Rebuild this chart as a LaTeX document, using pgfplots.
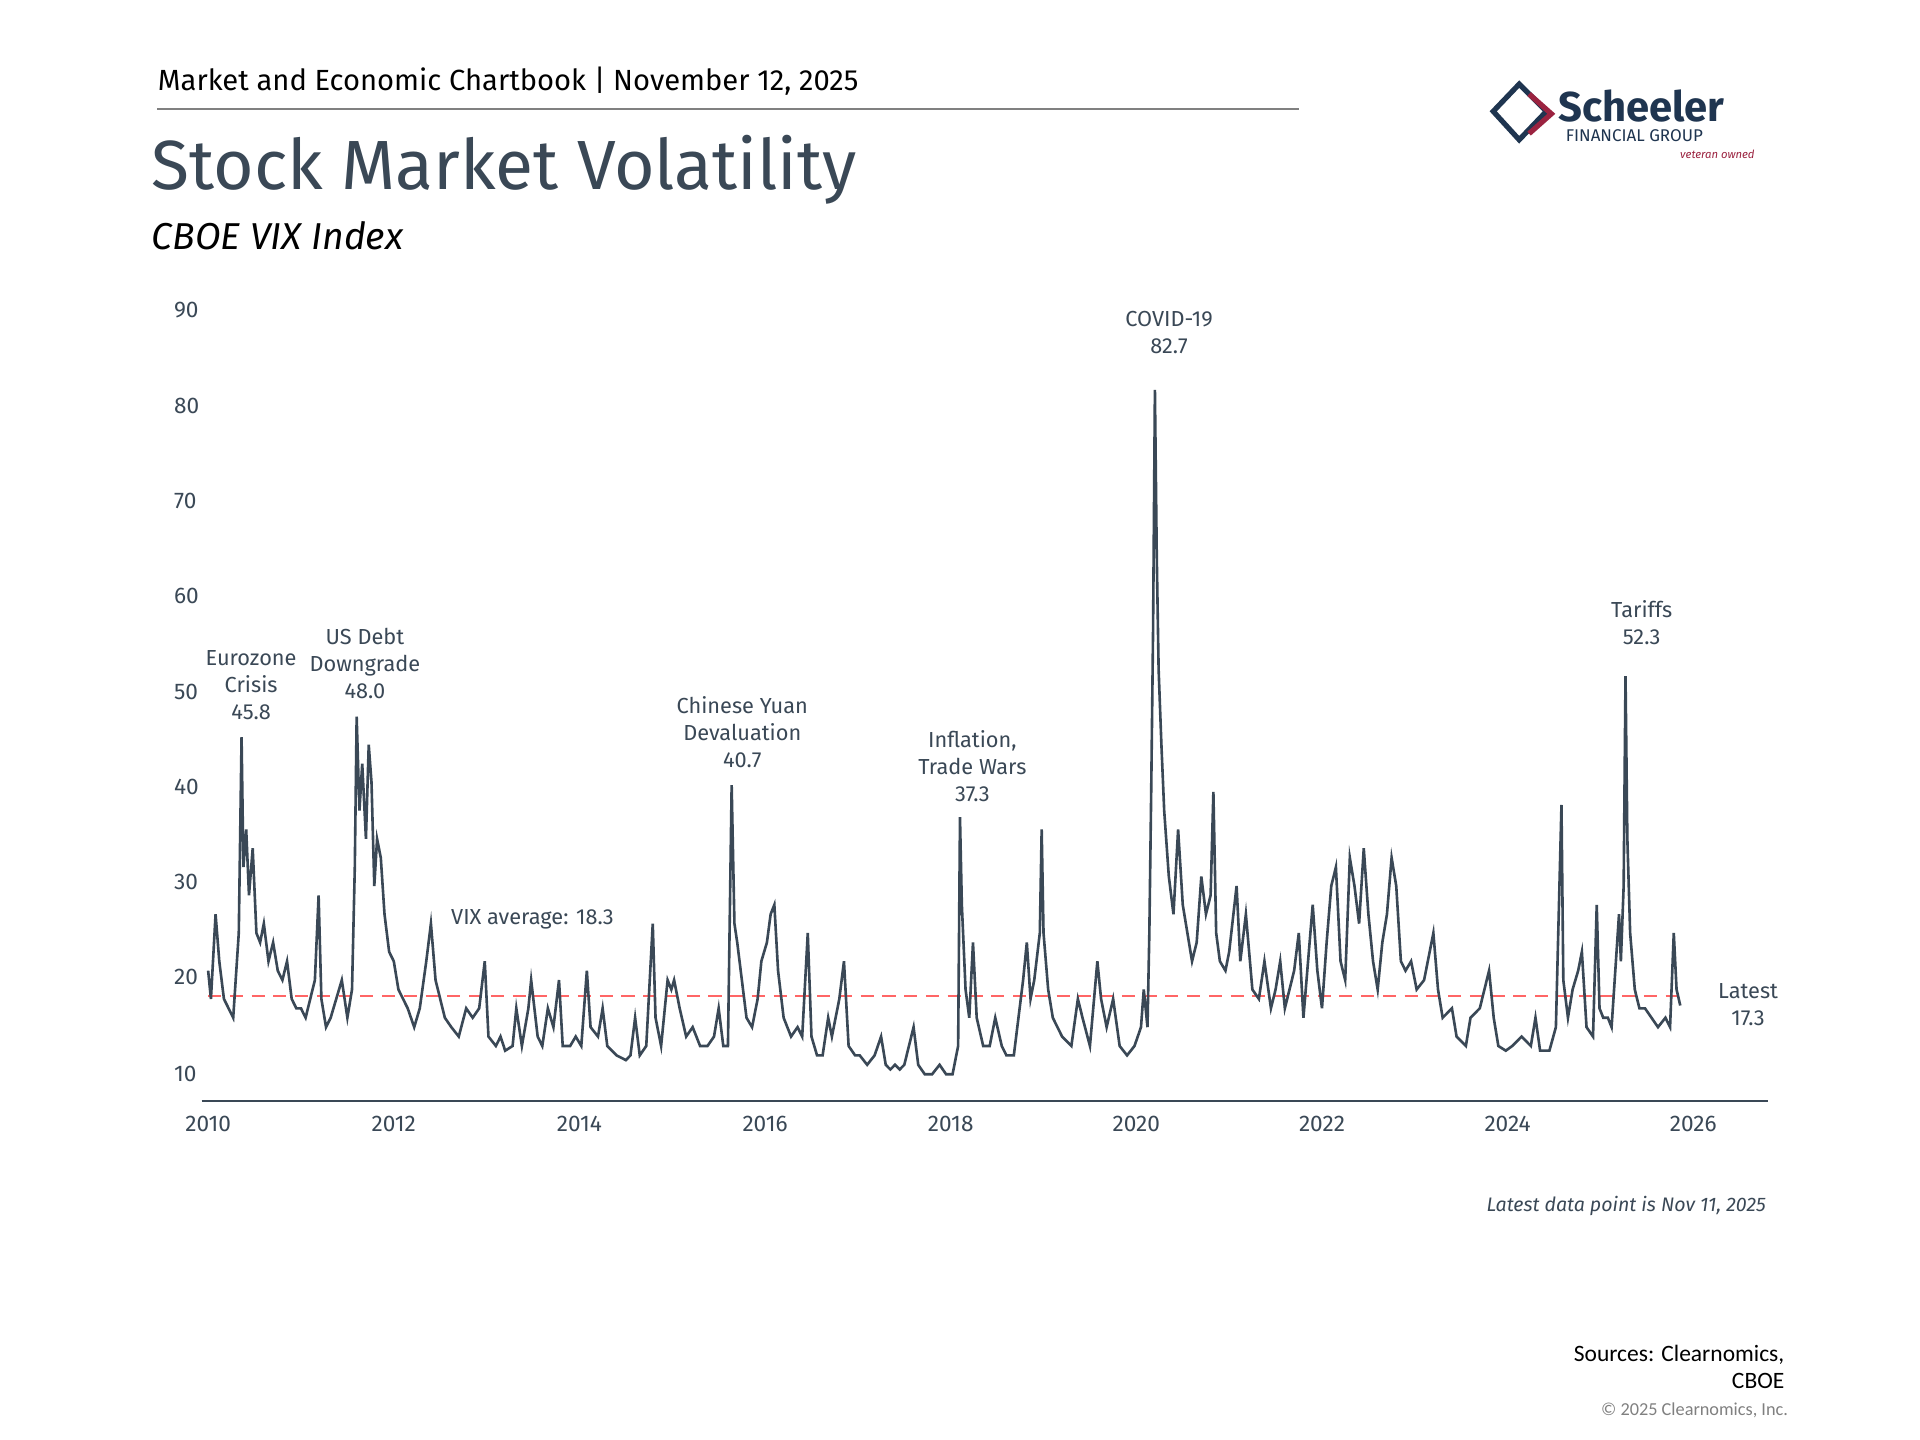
\documentclass[border=0pt]{standalone}
\usepackage{pgfplots}
\pgfplotsset{compat=1.18}
\usepackage{fontspec}
\setmainfont{Fira Sans}
\newfontfamily\calfont{Carlito}
\definecolor{ln}{HTML}{3A4856}
\definecolor{navy}{HTML}{1F3550}
\definecolor{wine}{HTML}{9B2340}
\begin{document}
\begin{tikzpicture}[x=0.01cm,y=-0.01cm]
\path[fill=white] (0,0) rectangle (1552,1164);
\coordinate (A) at (163,890);
\node[anchor=base west,inner sep=0,font=\fontsize{6.7}{8}\selectfont,text=black] at (127,73) {Market and Economic Chartbook | November 12, 2025};
\draw[gray,line width=0.4pt] (127,88) -- (1050,88);
\node[anchor=base west,inner sep=0,font=\fontsize{16}{18}\selectfont,text=ln] at (122,153) {Stock Market Volatility};
\node[anchor=base west,inner sep=0,font=\fontsize{8.6}{10}\selectfont\itshape,text=black] at (122,202) {CBOE VIX Index};
% logo
\draw[navy,line width=1.2pt] (1228,68) -- (1250,90) -- (1228,113) -- (1207,90) -- cycle;
\draw[wine,line width=1.2pt] (1236,76) -- (1254,92) -- (1236,108);
\node[anchor=base west,inner sep=0,font=\fontsize{9.6}{11}\selectfont\bfseries,text=navy] at (1259,98) {Scheeler};
\node[anchor=base west,inner sep=0,font=\fontsize{3.9}{5}\selectfont,text=navy] at (1265,114) {FINANCIAL GROUP};
\node[anchor=base east,inner sep=0,font=\fontsize{2.6}{3}\selectfont\itshape,text=wine] at (1419,128) {veteran owned};
\begin{axis}[at={(A)},anchor=south west,scale only axis,
 width=12.65cm,height=6.3cm,xmin=2009.93,xmax=2026.8,ymin=7.15,ymax=90,
 axis x line*=bottom, axis y line=none,
 xtick={2010,2012,...,2026},ytick=\empty,
 x tick label style={/pgf/number format/.cd,set thousands separator={},assume math mode=true},
 tick style={draw=none},
 ticklabel style={font=\fontsize{5.2}{6}\selectfont,text=ln},
 x axis line style={draw=ln,line width=0.6pt},
 clip=false]
\addplot[densely dashed,red!60,line width=0.4pt] coordinates {(2010,18.3) (2025.86,18.3)};
\addplot[ln,line width=0.6pt] coordinates {
(2010.0,21)(2010.03,18)(2010.08,27)(2010.12,22)(2010.17,18)(2010.22,17)(2010.27,16)(2010.33,25)(2010.36,45.8)(2010.38,32)(2010.41,36)(2010.44,29)(2010.48,34)(2010.52,25)(2010.56,24)(2010.6,26)(2010.65,22)(2010.7,24)(2010.75,21)(2010.8,20)(2010.85,22)(2010.9,18)(2010.95,17)
(2011.0,17)(2011.05,16)(2011.1,18)(2011.15,20)(2011.19,29)(2011.22,18)(2011.27,15)(2011.32,16)(2011.38,18)(2011.44,20)(2011.5,16)(2011.55,19)(2011.58,32)(2011.6,48)(2011.63,38)(2011.66,43)(2011.7,35)(2011.73,45)(2011.76,41)(2011.79,30)(2011.82,35)(2011.86,33)(2011.9,27)(2011.95,23)
(2012.0,22)(2012.05,19)(2012.1,18)(2012.15,17)(2012.22,15)(2012.28,17)(2012.35,22)(2012.4,26)(2012.45,20)(2012.5,18)(2012.55,16)(2012.62,15)(2012.7,14)(2012.78,17)(2012.85,16)(2012.92,17)(2012.98,22)
(2013.02,14)(2013.1,13)(2013.15,14)(2013.2,12.5)(2013.28,13)(2013.32,17)(2013.38,13)(2013.45,17)(2013.48,20)(2013.55,14)(2013.6,13)(2013.66,17)(2013.72,15)(2013.78,20)(2013.82,13)(2013.9,13)(2013.96,14)
(2014.02,13)(2014.08,21)(2014.12,15)(2014.2,14)(2014.25,17)(2014.3,13)(2014.4,12)(2014.5,11.5)(2014.55,12)(2014.6,16)(2014.65,12)(2014.72,13)(2014.79,26)(2014.82,16)(2014.88,13)(2014.95,20)(2014.99,19)
(2015.02,20)(2015.08,17)(2015.15,14)(2015.22,15)(2015.3,13)(2015.38,13)(2015.45,14)(2015.5,17)(2015.55,13)(2015.6,13)(2015.64,40.7)(2015.67,26)(2015.7,24)(2015.75,20)(2015.8,16)(2015.86,15)(2015.92,18)(2015.96,22)
(2016.02,24)(2016.06,27)(2016.1,28)(2016.14,21)(2016.2,16)(2016.28,14)(2016.35,15)(2016.4,14)(2016.46,25)(2016.5,14)(2016.56,12)(2016.62,12)(2016.68,16)(2016.72,14)(2016.8,18)(2016.85,22)(2016.9,13)(2016.97,12)
(2017.02,12)(2017.1,11)(2017.18,12)(2017.25,14)(2017.3,11)(2017.35,10.5)(2017.4,11)(2017.45,10.5)(2017.5,11)(2017.6,15)(2017.65,11)(2017.72,10)(2017.8,10)(2017.88,11)(2017.95,10)
(2018.02,10)(2018.08,13)(2018.1,37.3)(2018.12,28)(2018.16,19)(2018.2,16)(2018.24,24)(2018.28,16)(2018.35,13)(2018.42,13)(2018.48,16)(2018.55,13)(2018.6,12)(2018.68,12)(2018.78,20)(2018.82,24)(2018.86,18)(2018.9,20)(2018.96,25)(2018.98,36)
(2019.0,25)(2019.05,19)(2019.1,16)(2019.2,14)(2019.3,13)(2019.37,18)(2019.42,16)(2019.5,13)(2019.58,22)(2019.62,18)(2019.68,15)(2019.75,18)(2019.82,13)(2019.9,12)(2019.98,13)
(2020.05,15)(2020.08,19)(2020.12,15)(2020.14,25)(2020.16,40)(2020.18,57)(2020.2,82.7)(2020.22,65)(2020.24,53)(2020.27,45)(2020.3,38)(2020.35,31)(2020.4,27)(2020.45,36)(2020.5,28)(2020.55,25)(2020.6,22)(2020.65,24)(2020.7,31)(2020.75,27)(2020.8,29)(2020.83,40)(2020.86,25)(2020.9,22)(2020.96,21)
(2021.0,23)(2021.08,30)(2021.12,22)(2021.18,27)(2021.25,19)(2021.32,18)(2021.38,22)(2021.45,17)(2021.5,19)(2021.55,22)(2021.6,17)(2021.7,21)(2021.75,25)(2021.8,16)(2021.9,28)(2021.95,21)
(2022.0,17)(2022.05,24)(2022.1,30)(2022.15,32)(2022.2,22)(2022.25,20)(2022.3,33)(2022.35,30)(2022.4,26)(2022.45,34)(2022.5,27)(2022.55,22)(2022.6,19)(2022.65,24)(2022.7,27)(2022.75,33)(2022.8,30)(2022.85,22)(2022.9,21)(2022.96,22)
(2023.02,19)(2023.1,20)(2023.2,25)(2023.25,19)(2023.3,16)(2023.4,17)(2023.45,14)(2023.55,13)(2023.6,16)(2023.7,17)(2023.8,21)(2023.85,16)(2023.9,13)(2023.98,12.5)
(2024.05,13)(2024.15,14)(2024.25,13)(2024.3,16)(2024.35,12.5)(2024.45,12.5)(2024.52,15)(2024.58,38.6)(2024.6,20)(2024.65,16)(2024.7,19)(2024.76,21)(2024.8,23)(2024.85,15)(2024.92,14)(2024.96,28)(2024.99,17)
(2025.03,16)(2025.08,16)(2025.12,15)(2025.16,21)(2025.2,27)(2025.22,22)(2025.25,30)(2025.27,52.3)(2025.29,35)(2025.32,25)(2025.37,19)(2025.42,17)(2025.48,17)(2025.55,16)(2025.62,15)(2025.7,16)(2025.75,15)(2025.79,25)(2025.82,19)(2025.86,17.3)};
\end{axis}
% y tick labels
\foreach \v/\y in {90/251,80/328,70/405,60/482,50/559,40/636,30/713,20/790,10/868}
  \node[anchor=west,inner sep=0,font=\fontsize{5.2}{6}\selectfont,text=ln] at (140,\y) {\v};
\tikzset{ann/.style={align=center,font=\fontsize{5}{6.2}\selectfont,text=ln,inner sep=0}}
\node[ann] at (203,554) {Eurozone\\Crisis\\45.8};
\node[ann] at (295,536) {US Debt\\Downgrade\\48.0};
\node[ann] at (600,592) {Chinese Yuan\\Devaluation\\40.7};
\node[ann] at (786,619) {Inflation,\\Trade Wars\\37.3};
\node[ann] at (945,269) {COVID-19\\82.7};
\node[ann] at (1327,503) {Tariffs\\52.3};
\node[ann] at (1413,812) {Latest\\17.3};
\node[ann,anchor=west] at (364,743) {VIX average: 18.3};
\node[anchor=east,inner sep=0,font=\fontsize{4.5}{5}\selectfont\itshape,text=ln] at (1428,975) {Latest data point is Nov 11, 2025};
\node[anchor=east,inner sep=0,align=right,font=\calfont\fontsize{5.4}{6.2}\selectfont] at (1443,1105) {Sources: Clearnomics,\\CBOE};
\node[anchor=east,inner sep=0,font=\calfont\fontsize{4.2}{5}\selectfont,text=gray] at (1446,1140) {\textcopyright{} 2025 Clearnomics, Inc.};
\end{tikzpicture}
\end{document}
